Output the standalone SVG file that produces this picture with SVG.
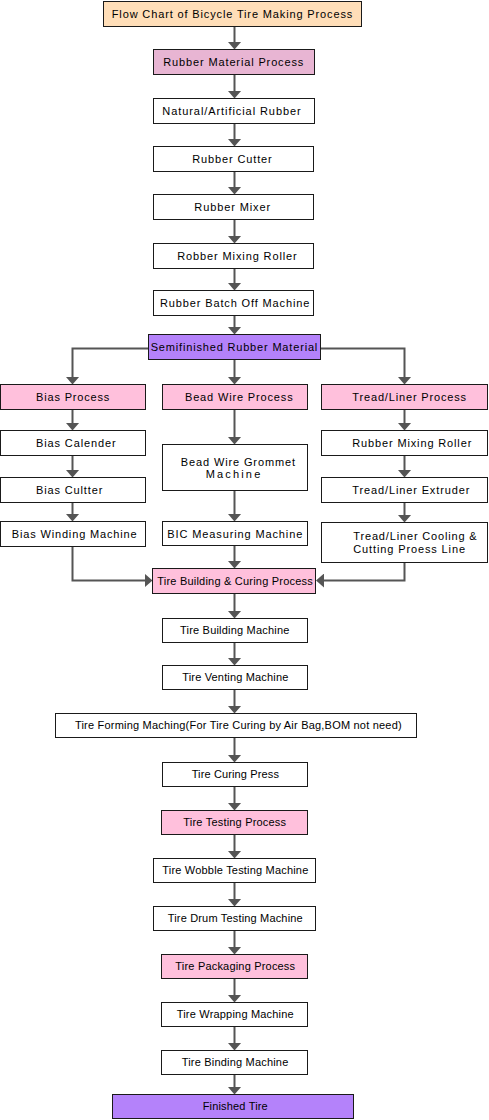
<svg xmlns="http://www.w3.org/2000/svg" width="489" height="1120" viewBox="0 0 489 1120">
<style>
.b{stroke:#1a1a1a;stroke-width:1;fill:#fff}
.t0{fill:#FFDEB8}
.rm{fill:#E8B5D3}
.pk{fill:#FFC0DC}
.pu{fill:#B482FA}
text{font-family:"Liberation Sans",Arial,sans-serif;font-size:11px;fill:#000;text-anchor:middle}
.l{text-anchor:start}
#connectors path{fill:none;stroke:#555;stroke-width:2;marker-end:url(#ah)}
</style>
<defs>
<marker id="ah" markerUnits="userSpaceOnUse" viewBox="0 0 8 14" markerWidth="8" markerHeight="14" refX="4" refY="7" orient="auto">
<path d="M0,0 L8,7 L0,14 Z" fill="#555"/>
</marker>
</defs>
<rect width="489" height="1120" fill="#fff"/>
<g id="connectors">
<path d="M234.5,26.5 V45.5"/>
<path d="M234.5,74.5 V94.5"/>
<path d="M234.5,123.5 V142.5"/>
<path d="M234.5,171.5 V190.5"/>
<path d="M234.5,219.5 V239.5"/>
<path d="M234.5,268.5 V286.5"/>
<path d="M234.5,315.5 V330.5"/>
<path d="M234.5,359.5 V380.5"/>
<path d="M148.5,348.5 H72.5 V380.5"/>
<path d="M320.5,348.5 H404.5 V380.5"/>
<path d="M72.5,409.5 V426.5"/>
<path d="M72.5,455.5 V473.5"/>
<path d="M72.5,502.5 V517.5"/>
<path d="M72.5,546.5 V580.5 H148.5"/>
<path d="M234.5,409.5 V440.5"/>
<path d="M234.5,490.5 V517.5"/>
<path d="M234.5,545.5 V564.5"/>
<path d="M404.5,409.5 V426.5"/>
<path d="M404.5,455.5 V473.5"/>
<path d="M404.5,502.5 V518.5"/>
<path d="M404.5,562.5 V580.5 H320"/>
<path d="M234.5,593.5 V614.5"/>
<path d="M234.5,642.5 V661.5"/>
<path d="M234.5,689.5 V709.5"/>
<path d="M234.5,737.5 V758.5"/>
<path d="M234.5,786.5 V806.5"/>
<path d="M234.5,834.5 V854.5"/>
<path d="M234.5,882.5 V902.5"/>
<path d="M234.5,930.5 V950.5"/>
<path d="M234.5,978.5 V998.5"/>
<path d="M234.5,1026.5 V1046.5"/>
<path d="M234.5,1074.5 V1090.5"/>
</g>
<g id="title"><rect class="b t0" x="103.5" y="1.5" width="258" height="25"/><text x="232" y="18.3" textLength="240.5" lengthAdjust="spacing">Flow Chart of Bicycle Tire Making Process</text></g>
<g id="rubber-material-process"><rect class="b rm" x="153.5" y="49.5" width="161" height="25"/><text x="233.3" y="66.3" textLength="140" lengthAdjust="spacing">Rubber Material Process</text></g>
<g id="natural-rubber"><rect class="b" x="153.5" y="98.5" width="161" height="25"/><text x="231.5" y="115.3" textLength="138.4" lengthAdjust="spacing">Natural/Artificial Rubber</text></g>
<g id="rubber-cutter"><rect class="b" x="153.5" y="146.5" width="160" height="25"/><text x="232" y="163.3" textLength="79.4" lengthAdjust="spacing">Rubber Cutter</text></g>
<g id="rubber-mixer"><rect class="b" x="153.5" y="194.5" width="160" height="25"/><text x="232.2" y="211.3" textLength="75.7" lengthAdjust="spacing">Rubber Mixer</text></g>
<g id="robber-mixing-roller"><rect class="b" x="153.5" y="243.5" width="160" height="25"/><text x="237" y="260.3" textLength="119.4" lengthAdjust="spacing">Robber Mixing Roller</text></g>
<g id="batch-off"><rect class="b" x="153.5" y="290.5" width="160" height="25"/><text x="234.7" y="307.3" textLength="149.3" lengthAdjust="spacing">Rubber Batch Off Machine</text></g>
<g id="semifinished"><rect class="b pu" x="148.5" y="334.5" width="172" height="25"/><text x="234" y="351.3" textLength="166.6" lengthAdjust="spacing">Semifinished Rubber Material</text></g>
<g id="bias-process"><rect class="b pk" x="0.5" y="384.5" width="145" height="25"/><text x="72.7" y="401.3" textLength="73.3" lengthAdjust="spacing">Bias Process</text></g>
<g id="bias-calender"><rect class="b" x="0.5" y="430.5" width="145" height="25"/><text x="75.8" y="447.3" textLength="79.7" lengthAdjust="spacing">Bias Calender</text></g>
<g id="bias-cultter"><rect class="b" x="0.5" y="477.5" width="145" height="25"/><text x="69.2" y="494.3" textLength="66.3" lengthAdjust="spacing">Bias Cultter</text></g>
<g id="bias-winding"><rect class="b" x="0.5" y="521.5" width="145" height="25"/><text x="74.2" y="537.8" textLength="125" lengthAdjust="spacing">Bias Winding Machine</text></g>
<g id="bead-wire-process"><rect class="b pk" x="162.5" y="384.5" width="145" height="25"/><text x="238.8" y="401.3" textLength="107.7" lengthAdjust="spacing">Bead Wire Process</text></g>
<g id="bead-wire-grommet"><rect class="b" x="162.5" y="444.5" width="145" height="46"/><text x="237.9" y="466" textLength="114.3" lengthAdjust="spacing">Bead Wire Grommet</text><text x="233" y="478.3" textLength="54.5" lengthAdjust="spacing">Machine</text></g>
<g id="bic-measuring"><rect class="b" x="162.5" y="521.5" width="145" height="24"/><text x="234.8" y="537.5" textLength="135" lengthAdjust="spacing">BIC Measuring Machine</text></g>
<g id="tread-liner-process"><rect class="b pk" x="321.5" y="384.5" width="166" height="25"/><text x="409.2" y="401.3" textLength="113.7" lengthAdjust="spacing">Tread/Liner Process</text></g>
<g id="rubber-mixing-roller"><rect class="b" x="321.5" y="430.5" width="166" height="25"/><text x="411.8" y="447.3" textLength="119" lengthAdjust="spacing">Rubber Mixing Roller</text></g>
<g id="tread-liner-extruder"><rect class="b" x="321.5" y="477.5" width="166" height="25"/><text x="410.8" y="494.3" textLength="117" lengthAdjust="spacing">Tread/Liner Extruder</text></g>
<g id="cooling-cutting"><rect class="b" x="321.5" y="522.5" width="166" height="40"/><text class="l" x="353.3" y="540" textLength="123.4" lengthAdjust="spacing">Tread/Liner Cooling &amp;</text><text class="l" x="353.3" y="552.8" textLength="111.7" lengthAdjust="spacing">Cutting Proess Line</text></g>
<g id="tire-building-curing"><rect class="b pk" x="152.5" y="568.5" width="163" height="25"/><text x="235" y="584.8" textLength="155.4" lengthAdjust="spacing">Tire Building &amp; Curing Process</text></g>
<g id="tire-building-machine"><rect class="b" x="162.5" y="618.5" width="145" height="24"/><text x="234.7" y="634.3" textLength="109.3" lengthAdjust="spacing">Tire Building Machine</text></g>
<g id="tire-venting"><rect class="b" x="162.5" y="665.5" width="145" height="24"/><text x="235.3" y="681.3" textLength="106" lengthAdjust="spacing">Tire Venting Machine</text></g>
<g id="tire-forming"><rect class="b" x="55.5" y="713.5" width="361" height="24"/><text x="238.3" y="729.3" textLength="326.7" lengthAdjust="spacing">Tire Forming Maching(For Tire Curing by Air Bag,BOM not need)</text></g>
<g id="tire-curing-press"><rect class="b" x="162.5" y="762.5" width="145" height="24"/><text x="235.3" y="778.3" textLength="87.3" lengthAdjust="spacing">Tire Curing Press</text></g>
<g id="tire-testing-process"><rect class="b pk" x="161.5" y="810.5" width="146" height="24"/><text x="234.7" y="826.3" textLength="102.7" lengthAdjust="spacing">Tire Testing Process</text></g>
<g id="tire-wobble"><rect class="b" x="153.5" y="858.5" width="162" height="24"/><text x="235.3" y="874.3" textLength="146" lengthAdjust="spacing">Tire Wobble Testing Machine</text></g>
<g id="tire-drum"><rect class="b" x="153.5" y="906.5" width="162" height="24"/><text x="235.2" y="922.3" textLength="135" lengthAdjust="spacing">Tire Drum Testing Machine</text></g>
<g id="tire-packaging-process"><rect class="b pk" x="161.5" y="954.5" width="146" height="24"/><text x="235.2" y="970.3" textLength="119.7" lengthAdjust="spacing">Tire Packaging Process</text></g>
<g id="tire-wrapping"><rect class="b" x="161.5" y="1002.5" width="146" height="24"/><text x="235.2" y="1018.3" textLength="117" lengthAdjust="spacing">Tire Wrapping Machine</text></g>
<g id="tire-binding"><rect class="b" x="161.5" y="1050.5" width="146" height="24"/><text x="235" y="1066.3" textLength="106.6" lengthAdjust="spacing">Tire Binding Machine</text></g>
<g id="finished-tire"><rect class="b pu" x="112.5" y="1094.5" width="241" height="24"/><text x="235.2" y="1110.3" textLength="65" lengthAdjust="spacing">Finished Tire</text></g>
</svg>
